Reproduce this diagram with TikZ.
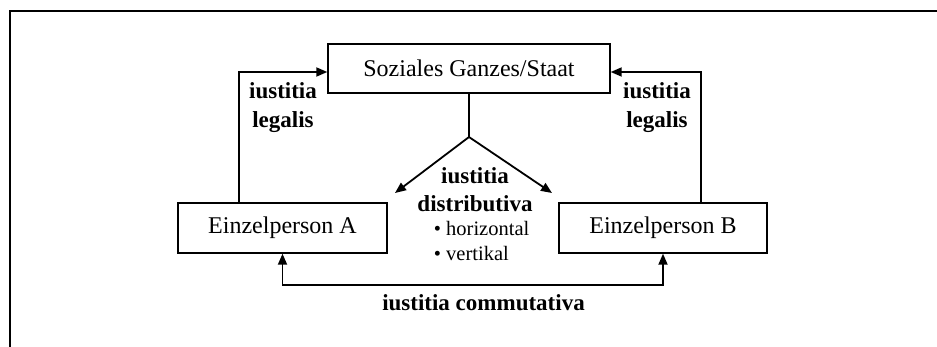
\documentclass[tikz,border=0pt]{standalone}
\usepackage{fontspec}
\setmainfont{Liberation Serif}
\usetikzlibrary{arrows.meta}
\begin{document}
\begin{tikzpicture}[x=1pt,y=-1pt,
  line width=1.8pt,
  box/.style={draw,line width=1.4pt,inner sep=0pt,font=\fontsize{24}{26}\selectfont},
  lbl/.style={font=\fontsize{23}{29}\selectfont\bfseries,align=center,inner sep=0pt},
  blt/.style={font=\fontsize{20.5}{25}\selectfont,align=left,inner sep=0pt},
  arr/.style={-{Triangle[length=11pt,width=9pt]}},
  dbl/.style={{Triangle[length=11pt,width=9pt]}-{Triangle[length=11pt,width=9pt]}}]
\useasboundingbox (0,0) rectangle (937,347);
\fill[white] (0,0) rectangle (937,347);
% frame
\draw[line width=1.9pt] (937,11) -- (10,11) -- (10,347);
% boxes
\node[box,minimum width=282pt,minimum height=49pt] (top) at (469,68.5) {Soziales Ganzes/Staat};
\node[box,minimum width=209pt,minimum height=50pt] (A) at (282.5,228) {Einzelperson A};
\node[box,minimum width=208pt,minimum height=50pt] (B) at (663,228) {Einzelperson B};
% labels
\node[lbl] (ll) at (283,107.5) {iustitia\\legalis};
\node[lbl] (lr) at (657,107.5) {iustitia\\legalis};
\node[lbl,font=\fontsize{23}{28}\selectfont\bfseries] (dist) at (475,190) {iustitia\\distributiva};
\node[blt,anchor=north west] (bul) at (433,220) {\textbullet\ horizontal\\\textbullet\ vertikal};
\node[lbl] (comm) at (483.5,303) {iustitia commutativa};
% coordinates
\coordinate (split) at (469,137);
\coordinate (ea) at (395,193);
\coordinate (eb) at (552,193);
\coordinate (bot) at (473,285);
\coordinate (lc) at (239,0);
\coordinate (rc) at (701,0);
% connectors
\draw[arr] (A.north -| lc) |- ([yshift=-3.5pt]top.west);
\draw[arr] (B.north -| rc) |- ([yshift=-3.5pt]top.east);
\draw (top.south) -- (split);
\draw[arr] (split) -- (ea);
\draw[arr] (split) -- (eb);
\draw[dbl] (A.south) |- (bot) -| (B.south);
\end{tikzpicture}
\end{document}
